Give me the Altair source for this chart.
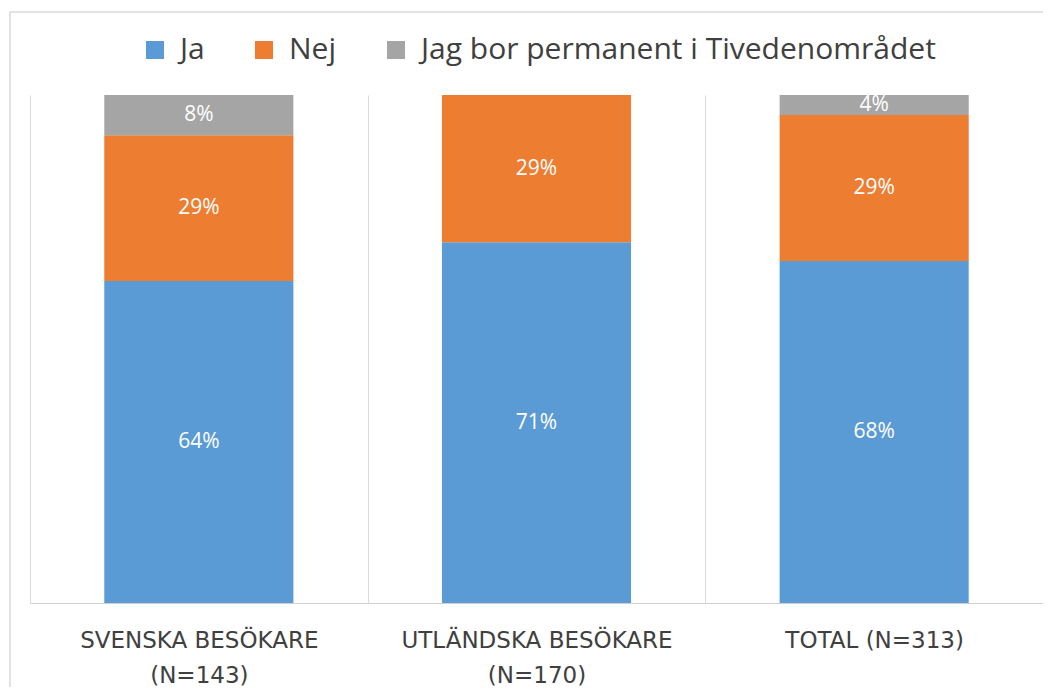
import altair as alt
import pandas as pd

categories = ["SVENSKA BESÖKARE\n(N=143)", "UTLÄNDSKA BESÖKARE\n(N=170)", "TOTAL (N=313)"]
series_names = ["Ja", "Nej", "Jag bor permanent i Tivedenområdet"]
colors = ["#5B9BD5", "#ED7D31", "#A5A5A5"]
ja = [64, 71, 68]
nej = [29, 29, 29]
bor = [8, 0, 4]

rows = []
for i, c in enumerate(categories):
    for k, (s, vals) in enumerate(zip(series_names, [ja, nej, bor])):
        rows.append({"cat": c, "series": s, "value": vals[i], "order": k,
                     "label": f"{vals[i]}%"})
df = pd.DataFrame(rows)

base = alt.Chart(df).transform_stack(
    stack="value", groupby=["cat"], as_=["y0", "y1"],
    sort=[alt.SortField("order", order="ascending")], offset="normalize"
).transform_calculate(mid="(datum.y0 + datum.y1) / 2")

x_enc = alt.X(
    "cat:N", sort=categories,
    scale=alt.Scale(paddingInner=0, paddingOuter=0),
    axis=alt.Axis(
        title=None, tickBand="extent", grid=True, gridColor="#d9d9d9", gridWidth=1,
        ticks=False, domainColor="#d0d0d0", domainWidth=1,
        labelExpr="split(datum.label, '\\n')", labelAngle=0,
        labelFont="DejaVu Sans", labelFontSize=23, labelColor="#404040",
        labelPadding=26, labelLineHeight=35, labelBaseline="top", labelLimit=500,
    ),
)

bars = base.mark_bar(width=alt.RelativeBandSize(0.56)).encode(
    x=x_enc,
    y=alt.Y("y0:Q", scale=alt.Scale(domain=[0, 1], nice=False), axis=None),
    y2="y1:Q",
    color=alt.Color(
        "series:N", sort=series_names,
        scale=alt.Scale(domain=series_names, range=colors),
        legend=alt.Legend(
            orient="none", legendX=110, legendY=-60, direction="horizontal",
            title=None, symbolType="square", symbolSize=324, symbolStrokeWidth=0,
            symbolOpacity=1, labelFont="Open Sans", labelFontSize=30,
            labelColor="#404040", labelOffset=10, columnPadding=44,
            labelLimit=800,
        ),
    ),
)

text = base.transform_filter("datum.value > 0").mark_text(
    color="white", font="Open Sans", fontSize=21, baseline="middle"
).encode(
    x=alt.X("cat:N", sort=categories),
    y=alt.Y("mid:Q"),
    text="label:N",
)

frame = alt.Chart(pd.DataFrame({"f": [0]})).mark_rect(
    fillOpacity=0, stroke="#d9d9d9", strokeWidth=1.5
).encode(
    x=alt.value(-20), x2=alt.value(1100), y=alt.value(-83), y2=alt.value(700)
)

chart = alt.layer(frame, bars, text).properties(
    width=1013, height=508,
    padding={"left": 22, "top": 87, "right": 0, "bottom": 84},
    autosize=alt.AutoSizeParams(type="none"),
).configure_view(stroke=None)

chart.save("out.html", embed_options={"renderer": "svg", "actions": False})
